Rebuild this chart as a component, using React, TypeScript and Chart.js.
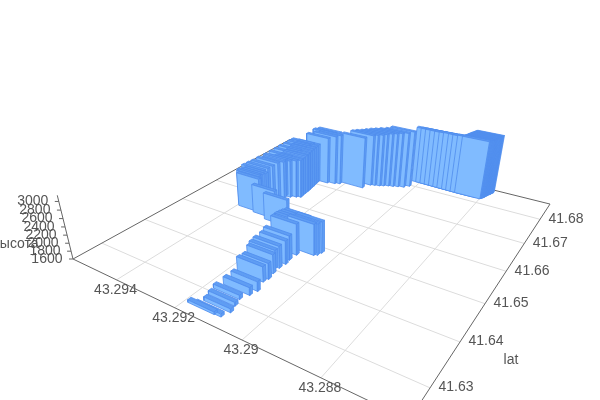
import React, { useEffect, useRef } from "react";
import { Chart, registerables } from "chart.js";

Chart.register(...registerables);

const lngTicks = [43.294, 43.292, 43.29, 43.288];
const latTicks = [41.63, 41.64, 41.65, 41.66, 41.67, 41.68];
const altTicks = [1600, 1800, 2000, 2200, 2400, 2600, 2800, 3000];

const barLng = [
  43.29148, 43.29129, 43.29121, 43.29128, 43.29135, 43.29125, 43.29119, 43.29131, 43.29127, 43.29132, 43.29141,
  43.29133, 43.2913, 43.29133, 43.29131, 43.29093, 43.29085, 43.29081, 43.29148, 43.29146, 43.29143,
  43.29138, 43.29238, 43.29292, 43.29354, 43.29359, 43.29364, 43.29359, 43.29354, 43.29373, 43.29369,
  43.29364, 43.29361, 43.29348, 43.29334, 43.29319, 43.29307, 43.29309, 43.2931, 43.29311, 43.29313,
  43.29315, 43.29317, 43.29319, 43.29321, 43.29291, 43.29268, 43.29254, 43.29284, 43.29273, 43.29178,
  43.29165, 43.29153, 43.29138, 43.29127, 43.29114, 43.291, 43.29086, 43.29069, 43.29057, 43.28987,
  43.28973, 43.28958, 43.28943, 43.28928, 43.28913, 43.28899, 43.28883, 43.28869, 43.28854, 43.28839,
  43.28837, 43.28835, 43.28833, 43.28832, 43.28831, 43.2883, 43.28829, 43.28828, 43.28827, 43.28826,
  43.28824, 43.28823, 43.28822, 43.28821, 43.2882, 43.28818,
  43.29351, 43.29349, 43.29348, 43.29348, 43.29346, 43.29344, 43.29342,
];
const barLat = [
  41.6264, 41.62652, 41.62804, 41.62955, 41.63119, 41.63283, 41.63429, 41.63668, 41.63776, 41.6394, 41.64072,
  41.64116, 41.64268, 41.644, 41.6459, 41.64741, 41.64779, 41.64867, 41.64829, 41.64892, 41.64956,
  41.65019, 41.65277, 41.65378, 41.65429, 41.65473, 41.65523, 41.65587, 41.6565, 41.65732, 41.65839,
  41.65946, 41.66091, 41.66167, 41.66255, 41.66325, 41.66369, 41.6647, 41.66565, 41.66659, 41.66754,
  41.66849, 41.66943, 41.67038, 41.67133, 41.67202, 41.67259, 41.67309, 41.67385, 41.67448, 41.67398,
  41.67599, 41.67637, 41.67669, 41.67713, 41.67764, 41.67795, 41.67839, 41.67883, 41.67984, 41.68252,
  41.68249, 41.68246, 41.68243, 41.6824, 41.68237, 41.68234, 41.6823, 41.68227, 41.68224, 41.68221,
  41.68245, 41.68268, 41.68292, 41.68316, 41.6834, 41.68364, 41.68388, 41.68412, 41.68436, 41.6846,
  41.68484, 41.68508, 41.68532, 41.68556, 41.6858, 41.68604,
  41.66249, 41.66407, 41.66565, 41.66722, 41.6688, 41.67006, 41.6712,
];
const barAlt = [
  1660, 1670, 1690, 1690, 1700, 1785, 1831, 1970, 1985, 2062, 2047,
  2139, 2170, 2201, 2370, 2370, 2370, 2378, 2247, 2247, 2250,
  2255, 2293, 2339, 2493, 2524, 2524, 2524, 2530, 2524, 2539,
  2555, 2570, 2586, 2601, 2601, 2616, 2616, 2632, 2632, 2640,
  2647, 2647, 2650, 2655, 2863, 2924, 2955, 2924, 2940, 2986,
  2986, 3001, 3017, 3032, 3048, 3063, 3078, 3094, 3109, 3109,
  3109, 3109, 3109, 3109, 3117, 3125, 3125, 3125, 3140, 3140,
  3140, 3140, 3140, 3140, 3140, 3140, 3140, 3140, 3140, 3140,
  3140, 3140, 3140, 3140, 3140, 3140,
  2610, 2620, 2630, 2635, 2640, 2650, 2655,
];

const LNG_MAX = 43.2957;
const LNG_SPAN = 0.00959;
const LAT_MIN = 41.624;
const LAT_SPAN = 0.0631;
const ALT_MIN = 1600;
const ALT_SPAN = 1540;
const BAR_DU = 0.085;
const BAR_DV = 0.012;

const FACE = "#80bbff";
const SIDE = "#5f9df3";
const TOP = "#5f9df3";
const EDGE = "#4f8dee";
const GRID = "#dcdcdc";
const AXIS = "#666666";
const TEXT = "#555555";

// camera that maps (u, v, w) in the unit box to chart coordinates
function project(u: number, v: number, w: number) {
  const den = -0.30937 * u + 0.46008 * v - 0.0625 * w + 1;
  return {
    x: (209.5 * u + 350.4 * v - 19.3 * w + 73) / den,
    y: (31.1 * u - 55.3 * v - 75.9 * w + 259) / den,
  };
}
const uOf = (lng: number) => (LNG_MAX - lng) / LNG_SPAN;
const vOf = (lat: number) => (lat - LAT_MIN) / LAT_SPAN;
const wOf = (alt: number) => (alt - ALT_MIN) / ALT_SPAN;

function lineSet(pts: { x: number; y: number }[], color: string, width: number) {
  return { data: pts, borderColor: color, borderWidth: width, pointRadius: 0, fill: false, tension: 0 };
}
function faceSet(pts: { x: number; y: number }[], fillColor: string) {
  return {
    data: [...pts, pts[0]],
    borderColor: EDGE,
    borderWidth: 0.8,
    backgroundColor: fillColor,
    pointRadius: 0,
    fill: "shape",
    tension: 0,
  };
}

function buildDatasets() {
  const out: any[] = [];
  for (const t of latTicks) {
    const v = vOf(t);
    out.push(lineSet([project(0, v, 0), project(1, v, 0)], GRID, 1));
  }
  for (const t of lngTicks) {
    const u = uOf(t);
    out.push(lineSet([project(u, 0, 0), project(u, 1, 0)], GRID, 1));
  }
  out.push(
    lineSet([project(0, 0, 0), project(1, 0, 0), project(1, 1, 0), project(0, 1, 0), project(0, 0, 0)], AXIS, 1)
  );
  out.push(lineSet([project(0, 0, 0), project(0, 0, 1)], AXIS, 1));
  for (const t of altTicks) {
    const p = project(0, 0, wOf(t));
    out.push(lineSet([p, { x: p.x - 4, y: p.y }], AXIS, 1));
  }
  const idx = barLng.map((_, i) => i);
  idx.sort((a, b) => barLat[b] - barLat[a] || barLng[b] - barLng[a]);
  for (const i of idx) {
    const uc = uOf(barLng[i]);
    const vc = vOf(barLat[i]);
    const w = wOf(barAlt[i]);
    const u0 = uc - BAR_DU / 2;
    const u1 = uc + BAR_DU / 2;
    const v0 = vc - BAR_DV / 2;
    const v1 = vc + BAR_DV / 2;
    out.push(faceSet([project(u1, v0, 0), project(u1, v1, 0), project(u1, v1, w), project(u1, v0, w)], SIDE));
    out.push(faceSet([project(u0, v0, w), project(u1, v0, w), project(u1, v1, w), project(u0, v1, w)], TOP));
    out.push(faceSet([project(u0, v0, 0), project(u1, v0, 0), project(u1, v0, w), project(u0, v0, w)], FACE));
  }
  return out.map((d, i, arr) => ({ ...d, order: arr.length - i }));
}

const axisText = {
  id: "axisText",
  afterDraw(chart: any) {
    const { ctx, scales } = chart;
    const put = (s: string, x: number, y: number, font: string, align: CanvasTextAlign) => {
      ctx.font = font;
      ctx.textAlign = align;
      ctx.textBaseline = "middle";
      ctx.fillStyle = TEXT;
      ctx.fillText(s, scales.x.getPixelForValue(x), scales.y.getPixelForValue(y));
    };
    const tickFont = '14px "Liberation Sans", Arial, sans-serif';
    ctx.save();
    for (const t of lngTicks) {
      const p = project(uOf(t), 0, 0);
      put(String(t), p.x - 1, p.y + 10, tickFont, "center");
    }
    for (const t of latTicks) {
      const p = project(1, vOf(t), 0);
      put(String(t), p.x + 26, p.y - 0.5, tickFont, "center");
    }
    for (const t of altTicks) {
      const p = project(0, 0, wOf(t));
      put(String(t), p.x - 10.5, p.y, tickFont, "right");
    }
    put("lat", 511, 360, tickFont, "center");
    put("высота", 15.5, 244, tickFont, "center");
    ctx.restore();
  },
};

export default function App() {
  const ref = useRef<HTMLCanvasElement>(null);
  useEffect(() => {
    document.body.style.margin = "0";
    document.body.style.background = "#ffffff";
    const chart = new Chart(ref.current as HTMLCanvasElement, {
      type: "line",
      data: { datasets: buildDatasets() },
      options: {
        animation: false,
        responsive: false,
        events: [],
        parsing: false,
        layout: { padding: 0 },
        plugins: { legend: { display: false }, tooltip: { enabled: false }, title: { display: false } },
        scales: {
          x: { type: "linear", display: false, min: 0, max: 600 },
          y: { type: "linear", display: false, min: 0, max: 400, reverse: true },
        },
      },
      plugins: [axisText],
    } as any);
    return () => chart.destroy();
  }, []);
  return <canvas ref={ref} width={600} height={400} style={{ display: "block" }} />;
}
